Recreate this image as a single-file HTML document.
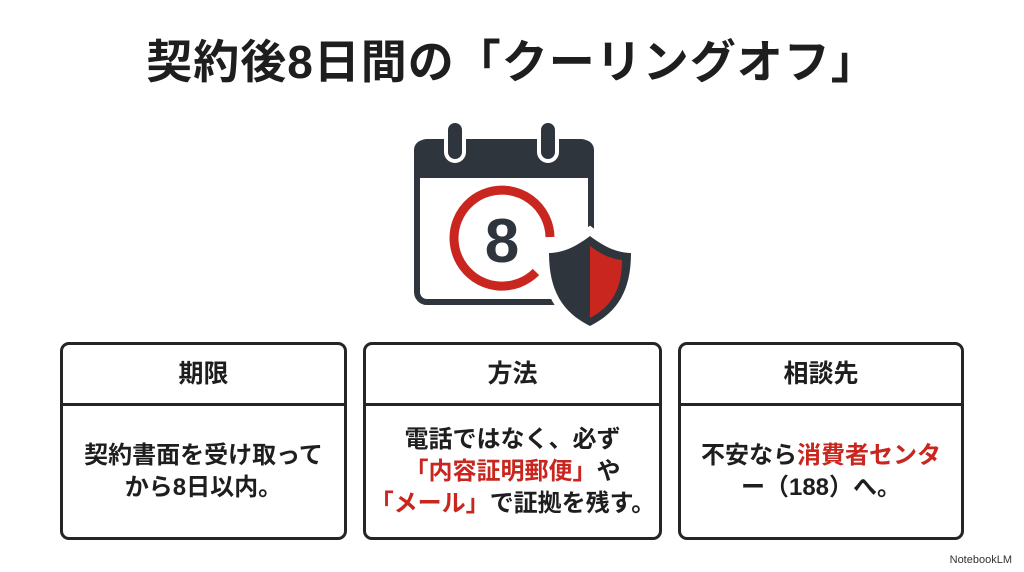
<!DOCTYPE html>
<html><head><meta charset="utf-8"><style>
body{margin:0;width:1024px;height:572px;background:#fff;position:relative;overflow:hidden;font-family:"Liberation Sans","Noto Sans CJK JP",sans-serif;color:#1e1e1e}
.t{position:absolute;top:30px;left:0;width:1024px;text-align:center;font-size:46px;font-weight:bold;line-height:64px;letter-spacing:1px}
.box{position:absolute;top:342px;height:192px;border:3px solid #252525;border-radius:9px;background:#fff}
.h{height:58px;border-bottom:3px solid #252525;text-align:center;font-size:25px;font-weight:bold;line-height:58px}
.b{display:flex;align-items:center;justify-content:center;height:131px;text-align:center;font-size:24px;font-weight:bold;line-height:32px;white-space:nowrap}
.r{color:#c8261e}
.nb{position:absolute;right:12px;bottom:6px;font-size:11px;color:#333}
</style></head><body>
<div class="t">契約後8日間の「クーリングオフ」</div>
<svg style="position:absolute;left:0;top:0" width="1024" height="572">
<rect x="417" y="142" width="174" height="160" rx="10" fill="#fff" stroke="#2f353c" stroke-width="6"/>
<path d="M414 178 V150 a10 10 0 0 1 10 -10 H584 a10 10 0 0 1 10 10 V178 Z" fill="#2f353c"/>
<rect x="446" y="121" width="18" height="40" rx="9" fill="#2f353c" stroke="#fff" stroke-width="4"/>
<rect x="539" y="121" width="18" height="40" rx="9" fill="#2f353c" stroke="#fff" stroke-width="4"/>
<path d="M536 272 A48 48 0 1 1 550 237" fill="none" stroke="#c8261e" stroke-width="9"/>
<text x="502" y="262" text-anchor="middle" font-size="62" font-weight="bold" fill="#2f353c" font-family="Liberation Sans,sans-serif">8</text>
<path d="M590 232 C572 246 558 250 546 250 C546 290 560 314 590 330 C620 314 634 290 634 250 C622 250 608 246 590 232Z" fill="#fff" stroke="#fff" stroke-width="10"/>
<path d="M590 236 C573 249 560 253 549 253 C549 290 562 312 590 326 C618 312 631 290 631 253 C620 253 607 249 590 236Z" fill="#2f353c"/>
<path d="M590 246 C577 256 567 259 558 260 C558 290 569 307 590 318 Z" fill="#2f353c"/>
<path d="M590 246 C603 256 613 259 622 260 C622 290 611 307 590 318 Z" fill="#c8261e"/>
</svg>
<div class="box" style="left:60px;width:281px"><div class="h">期限</div><div class="b"><div>契約書面を受け取って<br>から8日以内。</div></div></div>
<div class="box" style="left:363px;width:293px"><div class="h">方法</div><div class="b"><div>電話ではなく、必ず<br><span class="r">「内容証明郵便」</span>や<br><span class="r">「メール」</span>で証拠を残す。</div></div></div>
<div class="box" style="left:678px;width:280px"><div class="h">相談先</div><div class="b"><div>不安なら<span class="r">消費者センタ</span><br>ー（188）へ。</div></div></div>
<div class="nb">NotebookLM</div>
</body></html>
